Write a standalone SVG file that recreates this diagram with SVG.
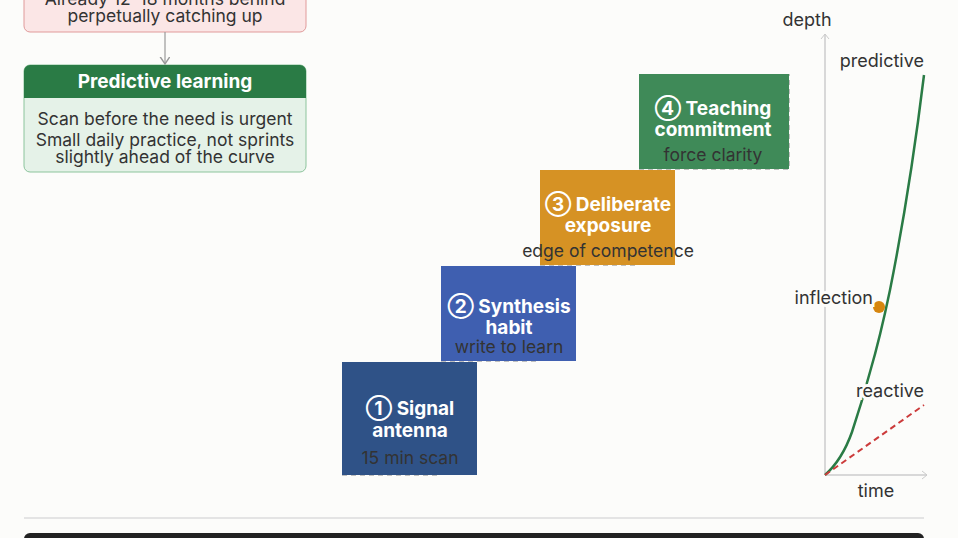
<svg xmlns="http://www.w3.org/2000/svg" width="958" height="538" viewBox="0 0 958 538">
<style>
text{font-family:"Inter","Liberation Sans",sans-serif;}
.b{fill:#333;font-size:17.5px;text-anchor:middle}
.t{fill:#fff;font-size:19px;font-weight:bold;text-anchor:middle}
.s{fill:#333;font-size:17.5px;text-anchor:middle}
.l{fill:#333;font-size:18px;paint-order:stroke;stroke:#fcfcfa;stroke-width:6px}
.d{stroke:#aaa;stroke-width:1.5;stroke-dasharray:5 4;fill:none}
</style>
<defs><marker id="a" markerWidth="10" markerHeight="10" refX="6" refY="4" orient="auto"><path d="M0,0 L6,4 L0,8" fill="none" stroke="#999" stroke-width="1.2"/></marker></defs>
<rect width="958" height="538" fill="#fcfcfa"/>
<g id="reactive-box">
<rect x="24" y="-20" width="282" height="52" rx="6" fill="#fbe6e6" stroke="#e09a9a"/>
<text class="b" x="165" y="5">Already 12–18 months behind</text>
<text class="b" x="165" y="22">perpetually catching up</text>
</g>
<g id="predictive-box">
<rect x="24" y="65" width="282" height="107" rx="6" fill="#e5f2e8" stroke="#8cc49c"/>
<path d="M24,98 V71 a6,6 0 0 1 6,-6 H300 a6,6 0 0 1 6,6 V98 Z" fill="#2a7b45"/>
<text class="t" x="165" y="88">Predictive learning</text>
<text class="b" x="165" y="125">Scan before the need is urgent</text>
<text class="b" x="165" y="146">Small daily practice, not sprints</text>
<text class="b" x="165" y="163">slightly ahead of the curve</text>
</g>
<g id="connectors">
<line x1="165" y1="32" x2="165" y2="64" stroke="#999" stroke-width="1.2" marker-end="url(#a)"/>
<path class="d" d="M441,362 V398 M540,266 V292 M540,322 V336 M639,170 V192 M342,475 H441 M441,361 H540 M540,265 H639 M639,169 H789 V74"/>
</g>
<g id="step1"><rect x="342" y="362" width="135" height="113" fill="#2f5287"/>
<text class="t" x="410" y="415">① Signal</text><text class="t" x="410" y="437">antenna</text><text class="s" x="410" y="464">15 min scan</text></g>
<g id="step2"><rect x="441" y="266" width="135" height="95" fill="#3f5fb0"/>
<text class="t" x="509" y="313">② Synthesis</text><text class="t" x="509" y="334">habit</text><text class="s" x="509" y="353">write to learn</text></g>
<g id="step3"><rect x="540" y="170" width="135" height="95" fill="#d69224"/>
<text class="t" x="608" y="211">③ Deliberate</text><text class="t" x="608" y="232">exposure</text><text class="s" x="608" y="257">edge of competence</text></g>
<g id="step4"><rect x="639" y="74" width="150" height="95" fill="#3f8a58"/>
<text class="t" x="713" y="115">④ Teaching</text><text class="t" x="713" y="136">commitment</text><text class="s" x="713" y="161">force clarity</text></g>
<g id="chart">
<line x1="825" y1="475" x2="825" y2="34" stroke="#ccc" stroke-width="1.5"/>
<path d="M821,39 L825,34 L829,39" fill="none" stroke="#ccc"/>
<line x1="825" y1="475" x2="927" y2="475" stroke="#ccc" stroke-width="1.5"/>
<path d="M922,471 L927,475 L922,479" fill="none" stroke="#ccc"/>
<path d="M825,475 Q842,460 852,432 Q862,402 870,372 Q880,338 890,290 Q910,190 924,75" fill="none" stroke="#2a7b45" stroke-width="2.5"/>
<line x1="825" y1="475" x2="924" y2="405" stroke="#cc3b3b" stroke-width="2" stroke-dasharray="6 4"/>
<circle cx="879" cy="307" r="6" fill="#d6860f"/>
<text class="l" x="807" y="26" text-anchor="middle">depth</text>
<text class="l" x="924" y="67" text-anchor="end">predictive</text>
<text class="l" x="873" y="304" text-anchor="end">inflection</text>
<text class="l" x="924" y="397" text-anchor="end">reactive</text>
<text class="l" x="876" y="497" text-anchor="middle">time</text>
</g>
<line x1="24" y1="518" x2="924" y2="518" stroke="#ddd" stroke-width="1.5"/>
<rect x="24" y="533" width="900" height="20" rx="6" fill="#222"/>
</svg>
